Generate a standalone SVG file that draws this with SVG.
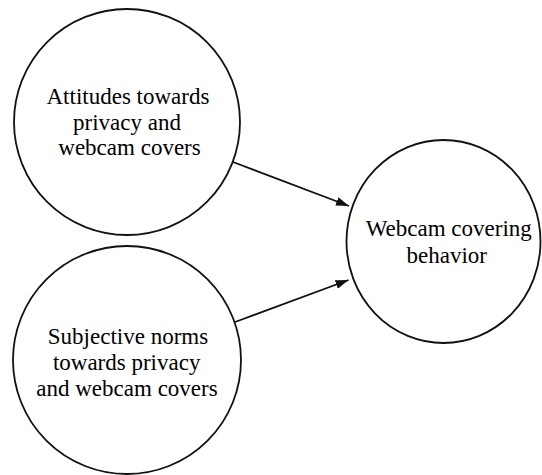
<svg xmlns="http://www.w3.org/2000/svg" width="542" height="475" viewBox="0 0 542 475">
<defs>
<marker id="ah" markerWidth="13" markerHeight="9" refX="13" refY="4.5" orient="auto" markerUnits="userSpaceOnUse">
<path d="M0,0 L13,4.5 L0,9 Z" fill="#111"/>
</marker>
</defs>
<rect width="542" height="475" fill="#fff"/>
<g id="attitudes">
<circle cx="127" cy="122" r="113" fill="#fff" stroke="#111" stroke-width="1.8"/>
<text x="46.5" y="104" font-family="Liberation Serif" font-size="23" style="font-family:'Liberation Serif',serif !important">Attitudes towards</text>
<text x="73" y="129.5" font-family="Liberation Serif" font-size="23" style="font-family:'Liberation Serif',serif !important">privacy and</text>
<text x="58.3" y="155" font-family="Liberation Serif" font-size="23" style="font-family:'Liberation Serif',serif !important">webcam covers</text>
</g>
<g id="norms">
<circle cx="127" cy="360" r="114" fill="#fff" stroke="#111" stroke-width="1.8"/>
<text x="47.8" y="343.5" font-family="Liberation Serif" font-size="23" style="font-family:'Liberation Serif',serif !important">Subjective norms</text>
<text x="52.9" y="369.5" font-family="Liberation Serif" font-size="23" style="font-family:'Liberation Serif',serif !important">towards privacy</text>
<text x="36.3" y="395.5" font-family="Liberation Serif" font-size="23" style="font-family:'Liberation Serif',serif !important">and webcam covers</text>
</g>
<g id="behavior">
<ellipse cx="443.5" cy="241.5" rx="97" ry="101.5" fill="#fff" stroke="#111" stroke-width="1.8"/>
<text x="365.7" y="236" font-family="Liberation Serif" font-size="23" style="font-family:'Liberation Serif',serif !important">Webcam covering</text>
<text x="406.5" y="263.3" font-family="Liberation Serif" font-size="23" style="font-family:'Liberation Serif',serif !important">behavior</text>
</g>
<g id="connectors" stroke="#111" stroke-width="1.8" fill="none">
<line x1="233" y1="162" x2="349" y2="206" marker-end="url(#ah)"/>
<line x1="235" y1="322" x2="348.5" y2="280" marker-end="url(#ah)"/>
</g>
</svg>
